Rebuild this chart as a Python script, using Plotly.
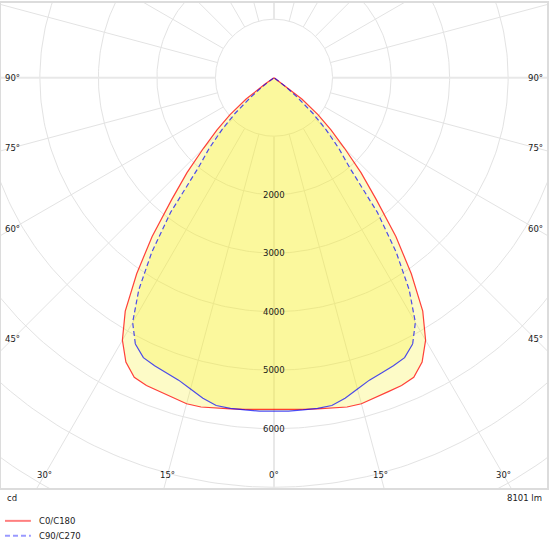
import numpy as np
import plotly.graph_objects as go

# Photometric data (gamma angle in degrees, luminous intensity in cd)
gamma = [0, 2.5, 5, 7.5, 10, 12.5, 15, 17.5, 20, 22.5, 25, 27.5, 30, 32.5, 35, 37.5,
         40, 42.5, 45, 47.5, 50, 52.5, 55, 57.5, 60, 62.5, 65, 67.5, 70, 72.5, 75,
         77.5, 80, 82.5, 85, 87.5, 90]
c0_c180 = [5670, 5675, 5690, 5710, 5735, 5765, 5770, 5740, 5710, 5695, 5650, 5480,
           5180, 4730, 4090, 3420, 2720, 2200, 1700, 1320, 980, 600, 180, 40, 0,
           0, 0, 0, 0, 0, 0, 0, 0, 0, 0, 0, 0]
c90_c270 = [5700, 5705, 5700, 5700, 5690, 5610, 5510, 5420, 5370, 5330, 5280, 5130,
            4830, 4300, 3640, 2900, 2020, 1640, 1260, 900, 520, 250, 60, 0, 0,
            0, 0, 0, 0, 0, 0, 0, 0, 0, 0, 0, 0]
ring_values = [2000, 3000, 4000, 5000, 6000]
side_angles = [45, 60, 75, 90]
bottom_angles = [0, 15, 30]
flux_label = "8101 lm"
unit_label = "cd"
series_names = ["C0/C180", "C90/C270"]

# pixel geometry of the drawing (550x550 page)
W, H = 550, 550
PX_PER_CD = 0.05875
left_px, right_px, top_px, bottom_px = 1, 549, 1, 488
cx_px, cy_px = 275, 76

x_range = [(left_px - cx_px) / PX_PER_CD, (right_px - cx_px) / PX_PER_CD]
y_range = [-(bottom_px - cy_px) / PX_PER_CD, (cy_px - top_px) / PX_PER_CD]


def paper_x(px):
    return (px - left_px) / (right_px - left_px)


def paper_y(py):
    return (bottom_px - py) / (bottom_px - top_px)


def curve_xy(left_vals, right_vals, g, idx=None):
    g = np.radians(np.array(g, dtype=float))
    lv = np.array(left_vals, dtype=float)
    rv = np.array(right_vals, dtype=float)
    if idx is not None:
        g, lv, rv = g[idx], lv[idx], rv[idx]
    xs = np.concatenate([-(lv * np.sin(g))[::-1], rv * np.sin(g)])
    ys = np.concatenate([-(lv * np.cos(g))[::-1], -rv * np.cos(g)])
    return xs, ys


fig = go.Figure()

# polar grid: rings every 1000 cd and rays every 15 degrees
grid_col = "#e3e3e3"
t = np.radians(np.arange(0, 361, 1))
gx, gy = [], []
for r in range(1000, 10001, 1000):
    gx += list(r * np.sin(t)) + [None]
    gy += list(-r * np.cos(t)) + [None]
for a in range(0, 360, 15):
    if a % 90 == 0:
        continue
    ar = np.radians(a)
    gx += [1000 * np.sin(ar), 12000 * np.sin(ar), None]
    gy += [-1000 * np.cos(ar), -12000 * np.cos(ar), None]
fig.add_trace(go.Scatter(x=gx, y=gy, mode="lines", line=dict(color=grid_col, width=1),
                         hoverinfo="skip", showlegend=False))
# main axes (0/90/180/270) a little heavier
mx, my = [], []
for a in [0, 90, 180, 270]:
    ar = np.radians(a)
    mx += [1000 * np.sin(ar), 12000 * np.sin(ar), None]
    my += [-1000 * np.cos(ar), -12000 * np.cos(ar), None]
fig.add_trace(go.Scatter(x=mx, y=my, mode="lines", line=dict(color="#e8e8e8", width=2),
                         hoverinfo="skip", showlegend=False))

fill_col = "rgba(248,238,30,0.25)"

# fills
rx, ry = curve_xy(c0_c180, c0_c180, gamma)
bx, by = curve_xy(c90_c270, c90_c270, gamma)
fig.add_trace(go.Scatter(x=rx, y=ry, mode="lines", fill="toself", fillcolor=fill_col,
                         line=dict(width=0), hoverinfo="skip", showlegend=False))
fig.add_trace(go.Scatter(x=bx, y=by, mode="lines", fill="toself", fillcolor=fill_col,
                         line=dict(width=0), hoverinfo="skip", showlegend=False))

# outlines
red = "rgba(255,0,0,0.75)"
blue = "rgba(0,0,255,0.7)"
fig.add_trace(go.Scatter(x=rx, y=ry, mode="lines", line=dict(color=red, width=1.2),
                         name=series_names[0], showlegend=False))

g_arr = np.array(gamma)
upper = np.where(g_arr >= 27.5)[0]
lower = np.where(g_arr <= 27.5)[0]
g_rad = np.radians(g_arr)
b_vals = np.array(c90_c270, dtype=float)
for sign in [-1, 1]:
    fig.add_trace(go.Scatter(x=sign * b_vals[upper] * np.sin(g_rad[upper]),
                             y=-b_vals[upper] * np.cos(g_rad[upper]),
                             mode="lines", line=dict(color=blue, width=1.2, dash="5px,3px"),
                             name=series_names[1], showlegend=False))
lx, ly = curve_xy(c90_c270, c90_c270, gamma, lower)
fig.add_trace(go.Scatter(x=lx, y=ly, mode="lines", line=dict(color=blue, width=1.2),
                         name=series_names[1], showlegend=False))

font = dict(family="DejaVu Sans", size=8.5, color="#1a1a1a")
ann = []
for v in ring_values:
    ann.append(dict(x=0, y=-v, xref="x", yref="y", text=str(v), showarrow=False,
                    font=font, xanchor="center", yanchor="middle"))
lab_x = (cx_px - 12.5) / PX_PER_CD
for a in side_angles:
    yy = 0 if a == 90 else -lab_x / np.tan(np.radians(a))
    for s in [-1, 1]:
        ann.append(dict(x=s * lab_x, y=yy, xref="x", yref="y", text=f"{a}°",
                        showarrow=False, font=font, xanchor="center", yanchor="middle"))
lab_y = -(475 - cy_px) / PX_PER_CD
for a in bottom_angles:
    xx = -lab_y * np.tan(np.radians(a))
    for s in ([1] if a == 0 else [-1, 1]):
        ann.append(dict(x=s * xx, y=lab_y, xref="x", yref="y", text=f"{a}°",
                        showarrow=False, font=font, xanchor="center", yanchor="middle"))

ann.append(dict(x=paper_x(5), y=paper_y(498), xref="paper", yref="paper", text=unit_label,
                showarrow=False, font=font, xanchor="left", yanchor="middle"))
ann.append(dict(x=paper_x(546), y=paper_y(498), xref="paper", yref="paper", text=flux_label,
                showarrow=False, font=font, xanchor="right", yanchor="middle"))

# legend
shapes = []
leg_y = [521, 536]
leg_style = [dict(color="rgba(255,0,0,0.5)", width=2),
             dict(color="rgba(0,0,255,0.4)", width=2, dash="5px,3px")]
for name, yy, st in zip(series_names, leg_y, leg_style):
    shapes.append(dict(type="line", xref="paper", yref="paper", x0=paper_x(5), x1=paper_x(31),
                       y0=paper_y(yy), y1=paper_y(yy), line=st))
    ann.append(dict(x=paper_x(37), y=paper_y(yy), xref="paper", yref="paper", text=name,
                    showarrow=False, font=font, xanchor="left", yanchor="middle"))

axis_common = dict(showgrid=False, zeroline=False, showticklabels=False, ticks="",
                   showline=True, mirror=True, linecolor="#dcdcdc", linewidth=2,
                   fixedrange=True)
fig.update_layout(
    width=W, height=H,
    margin=dict(l=left_px, r=W - right_px, t=top_px, b=H - bottom_px),
    paper_bgcolor="white", plot_bgcolor="white",
    xaxis=dict(range=x_range, **axis_common),
    yaxis=dict(range=y_range, **axis_common),
    annotations=ann, shapes=shapes,
    showlegend=False,
)

# drop the browser's default page margin so the figure sits at the window corner
fig.write_html("out.html", config={"displayModeBar": False},
               post_script="document.body.style.margin='0';")
